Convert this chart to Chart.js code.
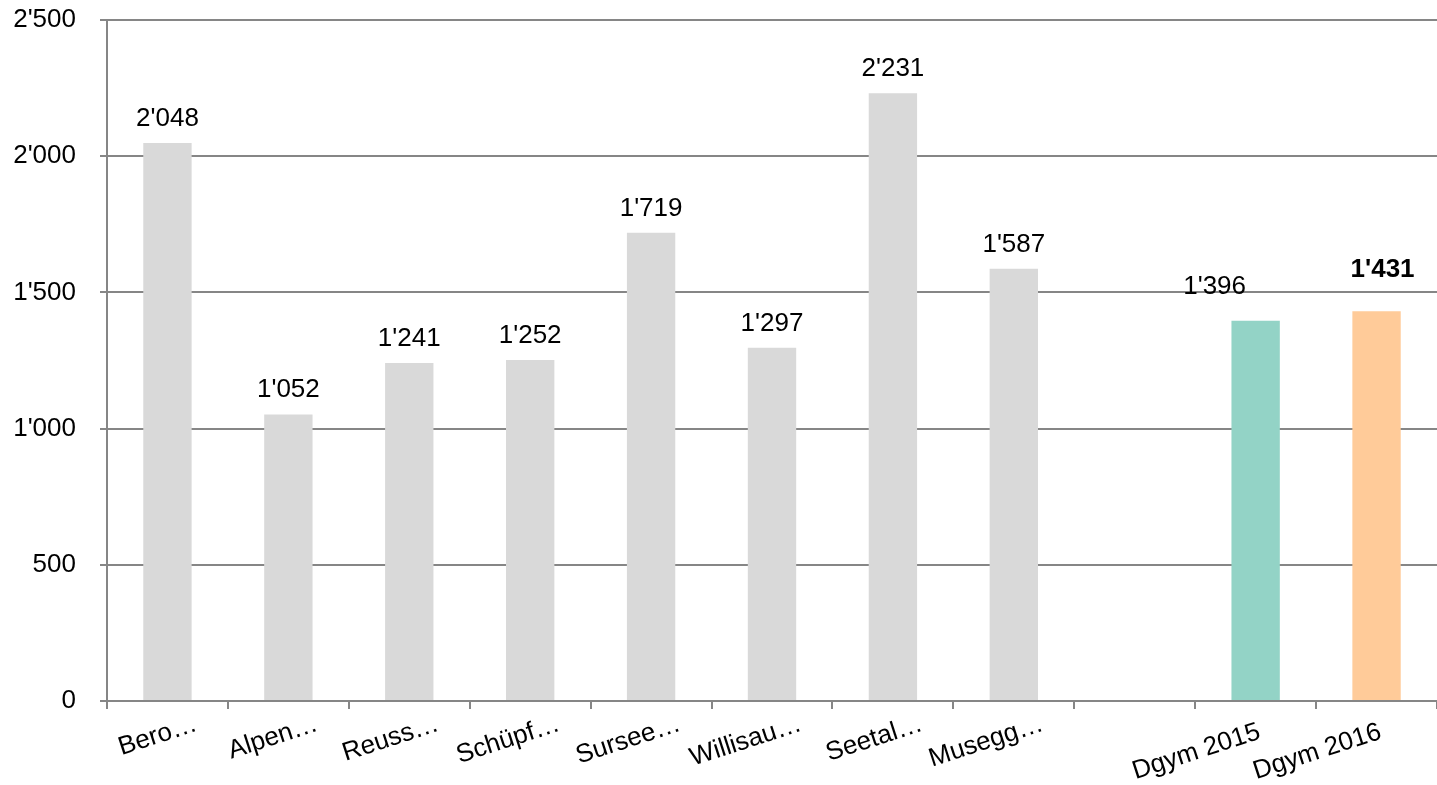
<!DOCTYPE html>
<html>
<head>
<meta charset="utf-8">
<title>Dgym</title>
<script src="https://cdn.jsdelivr.net/npm/chart.js@4/dist/chart.umd.min.js"></script>
<style>
  html, body { margin: 0; padding: 0; background: #fff; }
  #wrap { width: 1437px; height: 785px; position: relative; }
</style>
</head>
<body>
<div id="wrap"><canvas id="chart"></canvas></div>
<script>
/* ============================================================
   Dgym comparison — bar chart with value labels
   ============================================================ */

const schools = ["Bero…", "Alpen…", "Reuss…", "Schüpf…", "Sursee…", "Willisau…", "Seetal…", "Musegg…", "", "Dgym 2015", "Dgym 2016"];
const values = [2048, 1052, 1241, 1252, 1719, 1297, 2231, 1587, null, 1396, 1431];
const barColors = ["#d9d9d9", "#d9d9d9", "#d9d9d9", "#d9d9d9", "#d9d9d9", "#d9d9d9", "#d9d9d9", "#d9d9d9", "#d9d9d9", "#93d3c6", "#ffcb99"];
const yTicks = [0, 500, 1000, 1500, 2000, 2500];

const FONT = "'Liberation Sans', Arial, sans-serif";
const FONT_SIZE = 26;
const AXIS_GREY = "#868686";

// 2048 -> 2'048
function fmt(v) {
  return String(v).replace(/\B(?=(\d{3})+(?!\d))/g, "'");
}

// Value labels above each bar; last one bold
const valueLabels = {
  id: "valueLabels",
  afterDatasetsDraw(chart, args, opts) {
    const c = chart.ctx;
    const meta = chart.getDatasetMeta(0);
    c.save();
    c.fillStyle = "#000";
    c.textAlign = "center";
    c.textBaseline = "alphabetic";
    meta.data.forEach((bar, i) => {
      const v = values[i];
      if (v == null) return;
      const n = opts.nudge[i] || [0, 0];
      c.font = (i === values.length - 1 ? "bold " : "") + FONT_SIZE + "px " + FONT;
      c.fillText(fmt(v), bar.x + n[0], bar.y - opts.gap - n[1]);
    });
    c.restore();
  }
};

// Rotated category labels; a trailing ellipsis hangs past the anchor
const slantedLabels = {
  id: "slantedLabels",
  afterDraw(chart, args, opts) {
    const c = chart.ctx;
    const xs = chart.scales.x;
    const y0 = xs.bottom + opts.top;
    c.save();
    c.fillStyle = "#000";
    c.font = FONT_SIZE + "px " + FONT;
    c.textBaseline = "top";
    schools.forEach((name, i) => {
      if (!name) return;
      const x = xs.getPixelForValue(i);
      c.save();
      c.translate(x, y0);
      c.rotate(-opts.angle * Math.PI / 180);
      if (name.endsWith("…")) {
        c.textAlign = "right";
        c.fillText(name.slice(0, -1), 0, 0);
        c.textAlign = "left";
        c.fillText("…", 0, 0);
      } else {
        c.textAlign = "right";
        c.fillText(name, 0, 0);
      }
      c.restore();
    });
    c.restore();
  }
};

new Chart(document.getElementById("chart"), {
  type: "bar",
  data: {
    labels: schools,
    datasets: [{
      data: values,
      backgroundColor: barColors,
      borderWidth: 0,
      barPercentage: 0.4,
      categoryPercentage: 1.0
    }]
  },
  options: {
    responsive: true,
    maintainAspectRatio: false,
    animation: false,
    layout: { padding: { top: 20, left: 0, right: 0, bottom: 76 } },
    plugins: {
      legend: { display: false },
      tooltip: { enabled: false },
      valueLabels: {
        gap: 17,
        nudge: { 9: [-41, 10], 10: [6, 17] }
      },
      slantedLabels: { top: 10, angle: 18 }
    },
    scales: {
      x: {
        offset: true,
        grid: {
          offset: true,
          drawOnChartArea: false,
          drawTicks: true,
          tickLength: 8,
          color: AXIS_GREY,
          lineWidth: 2
        },
        border: { display: true, color: AXIS_GREY, width: 2 },
        ticks: { display: false }
      },
      y: {
        min: 0,
        max: 2500,
        afterBuildTicks(scale) { scale.ticks = yTicks.map(v => ({ value: v })); },
        afterFit(scale) {
          scale.width = 107;
          scale.paddingTop = 0;
          scale.paddingBottom = 0;
        },
        grid: {
          color: AXIS_GREY,
          lineWidth: 2,
          drawTicks: true,
          tickLength: 7
        },
        border: { display: true, color: AXIS_GREY, width: 2 },
        ticks: {
          padding: 24,
          color: "#000",
          font: { family: FONT, size: FONT_SIZE },
          callback: v => fmt(v)
        }
      }
    }
  },
  plugins: [valueLabels, slantedLabels]
});
</script>
</body>
</html>
